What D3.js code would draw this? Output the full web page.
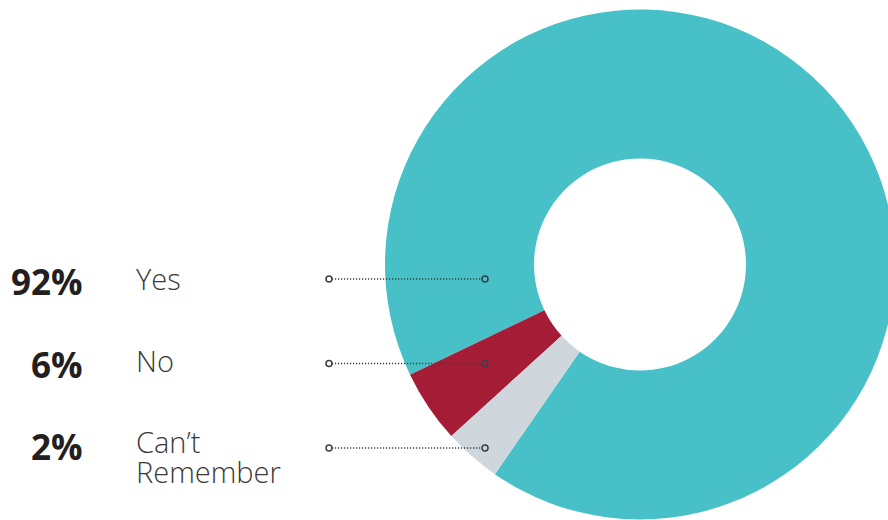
<!DOCTYPE html>
<html>
<head>
<meta charset="utf-8">
<script src="https://cdn.jsdelivr.net/npm/d3@7"></script>
<style>
  html, body { margin: 0; padding: 0; background: #fff; }
  svg { display: block; }
</style>
</head>
<body>
<div id="chart"></div>
<script>
// DATA
const categories = ["Yes", "No", "Can\u2019t Remember"]
const percentLabels = [92, 6, 2]
const sliceSizes = [330.3, 16.7, 13.0]
const colors = ["#47c1c7", "#a41c36", "#cfd7dc"]

const drawDonut = () => {
  // DIMENSIONS
  const dimensions = {
    width: 888,
    height: 520,
    cx: 640,
    cy: 264.5,
    outerRadius: 255,
    innerRadius: 106,
  }

  const rows = categories.map((c, i) => ({
    name: c,
    pct: percentLabels[i],
    size: sliceSizes[i],
    color: colors[i],
  }))

  const wrapper = d3.select("#chart")
    .append("svg")
    .attr("width", dimensions.width)
    .attr("height", dimensions.height)

  // DONUT
  const deg = Math.PI / 180
  const startAngle = 214.7 * deg
  const pie = d3.pie()
    .sort(null)
    .value(d => d.size)
    .startAngle(startAngle)
    .endAngle(startAngle - 2 * Math.PI)

  const arc = d3.arc()
    .innerRadius(dimensions.innerRadius)
    .outerRadius(dimensions.outerRadius)

  wrapper.append("g")
    .attr("transform", `translate(${dimensions.cx},${dimensions.cy})`)
    .selectAll("path")
    .data(pie(rows))
    .join("path")
      .attr("d", arc)
      .attr("fill", d => d.data.color)

  // ROW SCALES
  const leaderY = d3.scalePoint().domain(categories).range([279, 448])
  const pctY = d3.scalePoint().domain(categories).range([295, 460])
  const labelY = d3.scalePoint().domain(categories).range([290, 453])

  // LEADER LINES
  const leaders = wrapper.append("g")
  const leaderX0 = 329
  const leaderX1 = 485
  leaders.selectAll("line")
    .data(rows)
    .join("line")
      .attr("x1", leaderX0 + 3)
      .attr("x2", leaderX1 - 3)
      .attr("y1", d => leaderY(d.name))
      .attr("y2", d => leaderY(d.name))
      .attr("stroke", "#3b3f48")
      .attr("stroke-width", 1.3)
      .attr("stroke-dasharray", "1.2,1.8")
  ;[leaderX0, leaderX1].forEach(x => {
    leaders.append("g").selectAll("circle")
      .data(rows)
      .join("circle")
        .attr("cx", x)
        .attr("cy", d => leaderY(d.name))
        .attr("r", 3)
        .attr("fill", "none")
        .attr("stroke", "#3b3f48")
        .attr("stroke-width", 1.5)
  })

  // PERCENT LABELS
  wrapper.append("g")
    .selectAll("text")
    .data(rows)
    .join("text")
      .attr("x", 82.5)
      .attr("y", d => pctY(d.name))
      .attr("text-anchor", "end")
      .style("font-family", "'Open Sans', sans-serif")
      .style("font-weight", 700)
      .style("font-size", "35px")
      .attr("fill", "#231f20")
      .text(d => `${d.pct}%`)

  // CATEGORY LABELS
  const labels = wrapper.append("g")
    .selectAll("text")
    .data(rows)
    .join("text")
      .attr("x", 136)
      .attr("y", d => labelY(d.name))
      .style("font-family", "'Open Sans', sans-serif")
      .style("font-weight", 300)
      .style("font-size", "29px")
      .attr("fill", "#3a3a3a")

  labels.each(function(d) {
    const parts = d.name.split(" ")
    const t = d3.select(this)
    parts.forEach((p, i) => {
      t.append("tspan")
        .attr("x", 136)
        .attr("dy", i === 0 ? 0 : 30)
        .text(p)
    })
  })
}

drawDonut()
</script>
</body>
</html>
